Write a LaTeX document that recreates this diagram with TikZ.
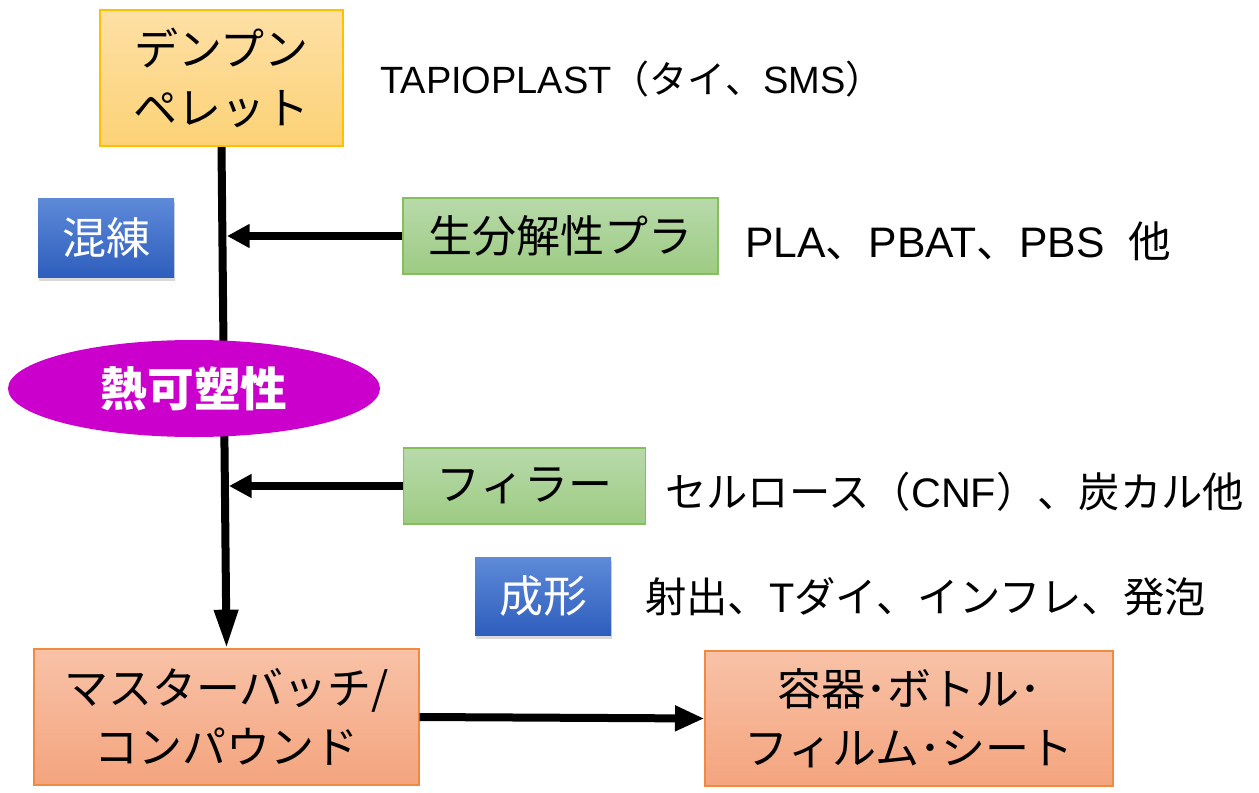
\documentclass[tikz,border=0pt]{standalone}
\usepackage{fontspec}
\setmainfont{Liberation Sans}
\newfontfamily\jp{Noto Sans CJK JP}
\usetikzlibrary{arrows.meta,shapes.geometric,shadows,backgrounds}
\definecolor{pelTop}{HTML}{FEE0A6}
\definecolor{pelBot}{HTML}{FCD276}
\definecolor{pelLine}{HTML}{FFC000}
\definecolor{grnTop}{HTML}{B8DAAA}
\definecolor{grnBot}{HTML}{9DCB83}
\definecolor{grnLine}{HTML}{86BE5E}
\definecolor{salTop}{HTML}{F8C2A7}
\definecolor{salBot}{HTML}{F4A47E}
\definecolor{salLine}{HTML}{F08A42}
\definecolor{bluTop}{HTML}{5E8AD8}
\definecolor{bluBot}{HTML}{2E5EBE}
\definecolor{mag}{HTML}{CC00CC}
\begin{document}
\begin{tikzpicture}[x=0.75pt,y=-0.75pt,
  box/.style={draw, line width=1pt, inner sep=0pt, align=center, text=black,
    font=\jp\fontsize{33}{44}\selectfont},
  pelbox/.style={box, draw=pelLine, top color=pelTop, bottom color=pelBot},
  grnbox/.style={box, draw=grnLine, top color=grnTop, bottom color=grnBot},
  salbox/.style={box, draw=salLine, top color=salTop, bottom color=salBot},
  blubox/.style={inner sep=0pt, align=center, text=white, top color=bluTop, bottom color=bluBot,
    drop shadow={opacity=0.3, shadow xshift=1pt, shadow yshift=-3pt},
    font=\jp\fontsize{33}{40}\selectfont},
  note/.style={anchor=west, inner sep=0pt, text=black, font=\fontsize{31}{36}\selectfont},
  conn/.style={line width=6pt, draw=black},
]
\useasboundingbox (0,0) rectangle (1259,792);

\node[pelbox, minimum width=182.25pt, minimum height=102pt] (pellet) at (221.5,78) {デンプン\\ペレット};
\node[blubox, minimum width=102pt, minimum height=59.25pt] (knead) at (106,237.5) {混練};
\node[grnbox, minimum width=236.25pt, minimum height=57pt] (bio) at (560.5,236) {生分解性プラ};
\node[ellipse, fill=mag, inner sep=0pt, minimum width=279pt, minimum height=72.75pt, text=white,
  font=\jp\bfseries\fontsize{35}{40}\selectfont] (thermo) at (194,388.5) {熱可塑性};
\node[grnbox, minimum width=181.5pt, minimum height=57pt] (filler) at (524.5,486) {フィラー};
\node[blubox, minimum width=102pt, minimum height=58.5pt] (mold) at (543,596) {成形};
\node[salbox, minimum width=288.75pt, minimum height=102pt] (mb) at (226.5,717) {マスターバッチ/\\コンパウンド};
\node[salbox, minimum width=306pt, minimum height=101.25pt] (prod) at (909,718.5) {容器･ボトル･\\フィルム･シート};

\node[note, font=\fontsize{28.5}{32}\selectfont] (t1) at (380,79) {TAPIOPLAST{\jp （タイ、}SMS{\jp ）}};
\node[note, font=\fontsize{32}{36}\selectfont] (t2) at (745,241) {PLA{\jp 、}PBAT{\jp 、}PBS\hspace{0.55em}{\jp 他}};
\node[note] (t3) at (665,492) {{\jp セルロース（}CNF{\jp ）、炭カル他}};
\node[note] (t4) at (645,597) {{\jp 射出、}T{\jp ダイ、インフレ、発泡}};

\coordinate (j1) at (227,236);
\coordinate (j2) at (229,486);

\begin{pgfonlayer}{background}
\draw[conn, -{Triangle[length=29pt,width=17pt]}] (pellet.south) -- (mb.north);
\end{pgfonlayer}
\draw[conn, -{Triangle[length=17pt,width=17pt]}] (bio.west) -- (j1);
\draw[conn, -{Triangle[length=17pt,width=17pt]}] (filler.west) -- (j2);
\draw[conn, -{Triangle[length=22pt,width=18pt]}] (mb.east) -- (prod.west);
\end{tikzpicture}
\end{document}
